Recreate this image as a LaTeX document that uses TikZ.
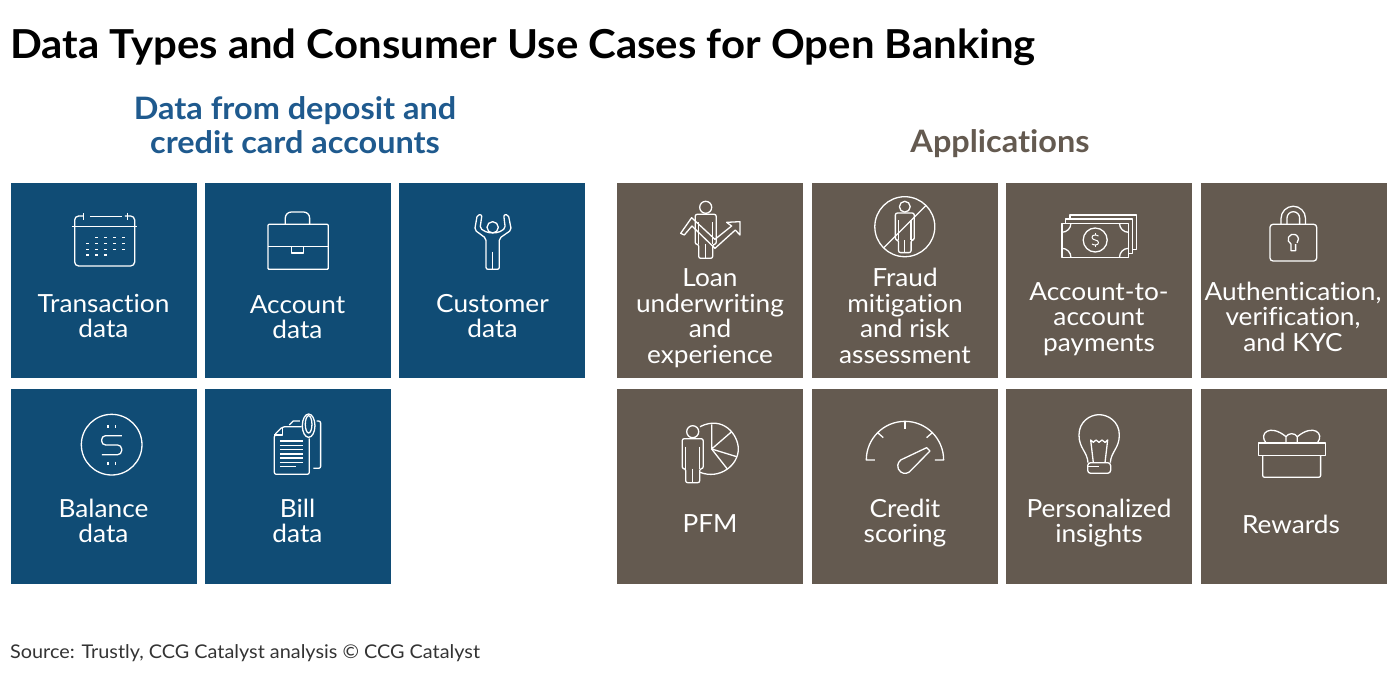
\documentclass[tikz,border=0pt]{standalone}
\usepackage{fontspec}
\setmainfont{Lato}[FakeStretch=1.05,Ligatures=NoCommon]
\definecolor{bluebg}{HTML}{104C75}
\definecolor{brownbg}{HTML}{645A50}
\definecolor{bluehead}{HTML}{1F5A8E}
\tikzset{
    bluebox/.style={rectangle,fill=bluebg,minimum width=186,minimum height=195,inner sep=0},
    brownbox/.style={rectangle,fill=brownbg,minimum width=186,minimum height=195,inner sep=0},
    boxlabel/.style={text=white,align=center,inner sep=0,font=\fontsize{25}{25.5}\selectfont},
    headlabel/.style={align=center,inner sep=0,font=\bfseries\fontsize{30.9}{34}\selectfont},
    iconline/.style={draw=white,line width=1.3,line join=round},
    zoomarea/.style n args={2}{shift={(#1pt,-#2pt)},x=0.3333pt,y=-0.3333pt},
    person/.pic={
        \draw[iconline] (0,0) circle (6);
        \draw[iconline,rounded corners=2pt] (-7,51) -- (-7,37) -- (-10.5,37) -- (-10.5,7) -- (10.5,7) -- (10.5,37) -- (7,37) -- (7,51) -- cycle;
        \draw[iconline] (-7,15) -- (-7,37);
        \draw[iconline] (7,15) -- (7,37);
        \draw[iconline] (0,37) -- (0,51);
    }
}
\begin{document}
\begin{tikzpicture}[x=1pt,y=-1pt]
    \useasboundingbox (0,0) rectangle (1400,694);

    % Titles
    \node[anchor=base west,inner sep=0,font=\bfseries\fontsize{39.9}{44}\selectfont] (title) at (10,58) {Data Types and Consumer Use Cases for Open Banking};
    \node[headlabel,text=bluehead] (datahead) at (295,125) {Data from deposit and\\credit card accounts};
    \node[headlabel,text=brownbg] (apphead) at (1000,144) {Applications};
    \node[anchor=base west,inner sep=0,font=\fontsize{18.9}{22}\selectfont,text=black!80] (source) at (10,658) {Source: Trustly, CCG Catalyst analysis © CCG Catalyst};

    % Data boxes
    \node[bluebox] (transaction) at (103.5,280.5) {};
    \node[bluebox] (account) at (297.5,280.5) {};
    \node[bluebox] (customer) at (492,280.5) {};
    \node[bluebox] (balance) at (103.5,486.5) {};
    \node[bluebox] (bill) at (297.5,486.5) {};
    \node[boxlabel] at (103.5,316) {Transaction\\data};
    \node[boxlabel] at (297.5,317) {Account\\data};
    \node[boxlabel] at (492.5,316) {Customer\\data};
    \node[boxlabel] at (103.5,521) {Balance\\data};
    \node[boxlabel] at (297.5,521) {Bill\\data};

    % Application boxes
    \node[brownbox] (loan) at (710,280.5) {};
    \node[brownbox] (fraud) at (905,280.5) {};
    \node[brownbox] (payments) at (1099,280.5) {};
    \node[brownbox] (auth) at (1294,280.5) {};
    \node[brownbox] (pfm) at (710,486.5) {};
    \node[brownbox] (credit) at (905,486.5) {};
    \node[brownbox] (insights) at (1099,486.5) {};
    \node[brownbox] (rewards) at (1294,486.5) {};
    \node[boxlabel] at (710,318) {Loan\\underwriting\\and\\experience};
    \node[boxlabel] at (905,316) {Fraud\\mitigation\\and risk\\assessment};
    \node[boxlabel] at (1099,319) {Account-to-\\account\\payments};
    \node[boxlabel] at (1293,316.5) {Authentication,\\verification,\\and KYC};
    \node[boxlabel] at (710,524) {PFM};
    \node[boxlabel] at (905,523) {Credit\\scoring};
    \node[boxlabel] at (1099,523) {Personalized\\insights};
    \node[boxlabel] at (1291,524) {Rewards};

    % Calendar
    \begin{scope}[zoomarea={0}{180}]
        \draw[iconline,rounded corners=4pt] (250,108) -- (224,108) -- (224,258) -- (404,258) -- (404,108) -- (375,108);
        \draw[iconline] (270,110) -- (365,110);
        \draw[iconline] (250,100) -- (250,120);
        \draw[iconline] (383,100) -- (383,120);
        \draw[iconline] (215,140) -- (411,140);
        \draw[iconline,dash pattern=on 3pt off 6pt] (286,172) -- (376,172);
        \draw[iconline,dash pattern=on 3pt off 6pt] (259,190) -- (376,190);
        \draw[iconline,dash pattern=on 3pt off 6pt] (259,208) -- (376,208);
        \draw[iconline,dash pattern=on 3pt off 6pt] (259,225) -- (322,225);
    \end{scope}

    % Briefcase
    \begin{scope}[zoomarea={0}{180}]
        \draw[iconline,rounded corners=1pt] (804,133) rectangle (985,268);
        \draw[iconline] (804,200) -- (985,200);
        \draw[iconline] (875,200) rectangle (911,219);
        \draw[iconline,rounded corners=6pt] (856,133) -- (856,96) -- (929,96) -- (929,133);
    \end{scope}

    % Customer
    \begin{scope}[zoomarea={400}{180}]
        \draw[iconline] (278,142) circle (17);
        \draw[iconline,rounded corners=2pt] (258,268) -- (258,175) -- (224,150) -- (232,104) -- (246,104) -- (240,145) -- (262,158) -- (295,158) -- (316,145) -- (311,104) -- (325,104) -- (334,150) -- (298,175) -- (298,268) -- cycle;
        \draw[iconline] (278,215) -- (278,268);
    \end{scope}

    % Loan
    \pic at (705.7,207.3) {person};
    \begin{scope}[zoomarea={400}{180}]
        \draw[iconline] (842,160) -- (875,113) -- (945,178) -- (995,138) -- (980,127) -- (1020,125) -- (1020,165) -- (1006,150) -- (945,205) -- (876,138) -- (853,165) -- cycle;
    \end{scope}

    % Fraud
    \draw[iconline] (904.8,226.7) circle (30);
    \pic[scale=0.9] at (904.8,206.7) {person};
    \draw[iconline] (883.6,247.9) -- (926,205.5);

    % Money
    \draw[iconline] (1061.9,223.3) rectangle (1128.5,257.3);
    \draw[iconline] (1065.6,223.3) -- (1065.6,219) -- (1132.2,219) -- (1132.2,253.3) -- (1128.5,253.3);
    \draw[iconline] (1070,219) -- (1070,215) -- (1136.7,215) -- (1136.7,249.3) -- (1132.2,249.3);
    \draw[iconline] (1095.2,240) circle (12);
    \draw[iconline] (1070.9,223.3) arc (0:90:9);
    \draw[iconline] (1119.5,223.3) arc (180:90:9);
    \draw[iconline] (1070.9,257.3) arc (0:-90:9);
    \draw[iconline] (1119.5,257.3) arc (180:270:9);
    \draw[iconline,line width=1] (1098.5,236) .. controls (1096,234.5) and (1092,234.5) .. (1092,237.5) .. controls (1092,240.5) and (1098.5,239.5) .. (1098.5,242.5) .. controls (1098.5,245.5) and (1094,245.5) .. (1092,244);
    \draw[iconline,line width=1] (1095.2,233) -- (1095.2,235);
    \draw[iconline,line width=1] (1095.2,245) -- (1095.2,247);

    % Lock
    \draw[iconline,rounded corners=3pt] (1270,224.3) rectangle (1316.7,261);
    \draw[iconline] (1281,224.3) -- (1281,218.5) arc (180:360:12.25) -- (1305.5,224.3);
    \draw[iconline] (1287,224.3) -- (1287,218) arc (180:360:6.3) -- (1299.6,224.3);
    \draw[iconline] (1295.6,244) -- (1295.6,250.7) -- (1291,250.7) -- (1291,244) arc (116:404:5.2);

    % Balance
    \begin{scope}[zoomarea={0}{385}]
        \draw[iconline] (335,179) circle (91);
        \draw[iconline,rounded corners=4pt] (366,152) -- (305,152) -- (305,180) -- (365,180) -- (365,209) -- (306,209);
        \draw[iconline] (324,120) -- (324,130);
        \draw[iconline] (347,120) -- (347,130);
        \draw[iconline] (324,230) -- (324,240);
        \draw[iconline] (347,230) -- (347,240);
    \end{scope}

    % Bill
    \begin{scope}[zoomarea={0}{385}]
        \draw[iconline,rounded corners=2pt] (905,125) -- (848,125) -- (823,150) -- (823,268) -- (928,268) -- (928,160);
        \draw[iconline] (823,150) -- (848,150) -- (848,125);
        \draw[iconline] (868,120) -- (880,108) -- (900,108);
        \draw[iconline,rounded corners=2pt] (950,108) -- (962,108) -- (962,250) -- (940,250);
        \draw[iconline] (926,122) ellipse (19 and 35);
        \draw[iconline] (926,118) ellipse (10 and 26);
        \draw[iconline] (840,168) -- (910,168);
        \draw[iconline] (840,181) -- (910,181);
        \draw[iconline] (840,194) -- (910,194);
        \draw[iconline] (840,207) -- (910,207);
        \draw[iconline] (840,219) -- (910,219);
        \draw[iconline] (840,232) -- (910,232);
        \draw[iconline] (840,245) -- (888,245);
    \end{scope}

    % PFM
    \pic at (692.7,431.7) {person};
    \begin{scope}[zoomarea={610}{385}]
        \draw[iconline] (270,125) .. controls (340,90) and (385,150) .. (385,192) .. controls (385,240) and (330,285) .. (270,262);
        \draw[iconline] (305,118) -- (305,192) -- (365,140);
        \draw[iconline] (305,192) -- (380,215);
        \draw[iconline] (305,192) -- (352,252);
    \end{scope}

    % Gauge
    \begin{scope}[zoomarea={610}{385}]
        \draw[iconline] (795,225) -- (769,225) arc (180:360:116) -- (975,225);
        \draw[iconline] (885,109) -- (885,133);
        \draw[iconline] (803,143) -- (820,158);
        \draw[iconline] (967,143) -- (950,158);
        \draw[iconline] (872,225) -- (950,188) -- (960,198) -- (903,256) arc (36:234:22);
    \end{scope}

    % Bulb
    \begin{scope}[zoomarea={1000}{385}]
        \draw[iconline] (264,233) .. controls (262,200) and (237,190) .. (237,150) .. controls (237,110) and (270,89) .. (297,89) .. controls (325,89) and (358,110) .. (358,150) .. controls (358,190) and (333,200) .. (331,233);
        \draw[iconline] (280,233) -- (272,165) -- (280,172) -- (288,165) -- (297,172) -- (306,165) -- (315,172) -- (323,165) -- (315,233);
        \draw[iconline,rounded corners=3pt] (263,233) rectangle (332,265);
        \draw[iconline] (265,245) -- (298,245);
    \end{scope}

    % Gift
    \begin{scope}[zoomarea={1000}{385}]
        \draw[iconline] (775,174) rectangle (976,212);
        \draw[iconline,rounded corners=2pt] (788,212) -- (788,277) -- (962,277) -- (962,212);
        \draw[iconline] (798,174) .. controls (775,145) and (810,115) .. (858,155) -- (858,174);
        \draw[iconline] (952,174) .. controls (975,145) and (940,115) .. (892,155) -- (892,174);
        \draw[iconline] (858,155) .. controls (866,143) and (884,143) .. (892,155);
    \end{scope}
\end{tikzpicture}
\end{document}
